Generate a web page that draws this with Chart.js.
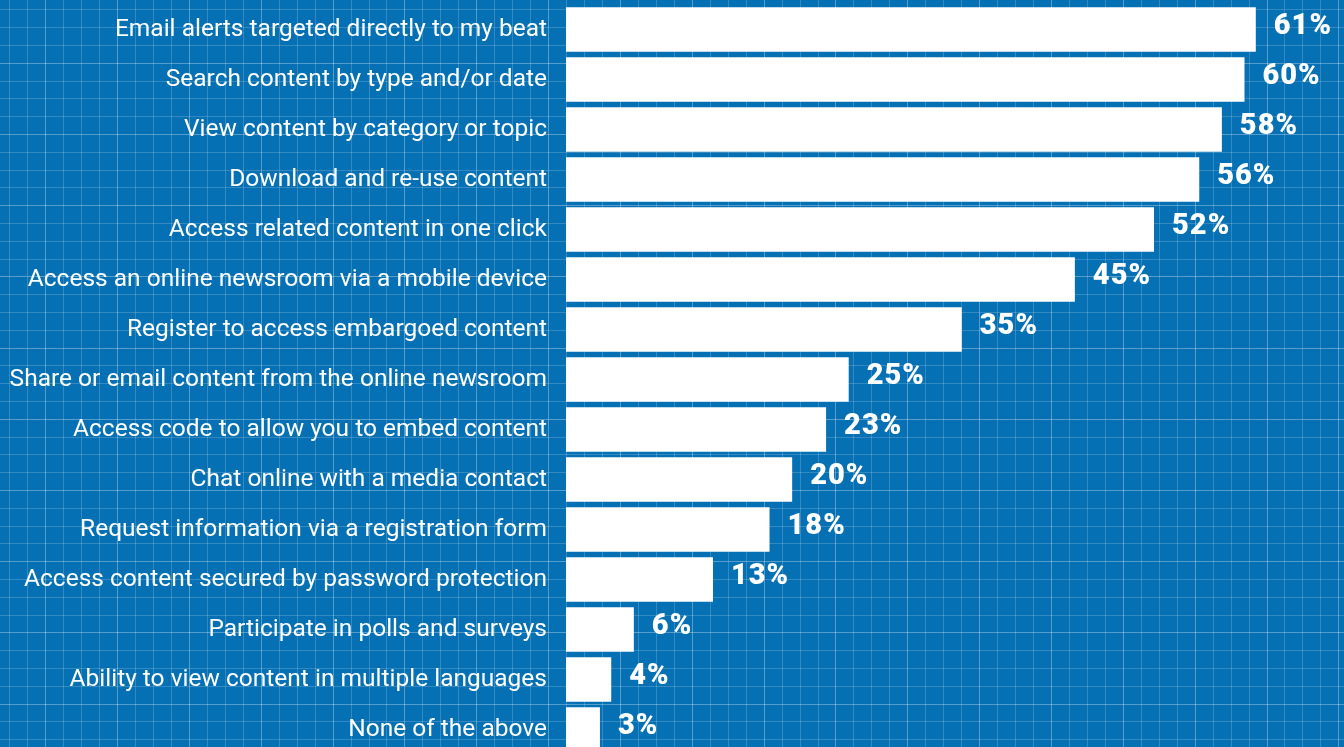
<!DOCTYPE html>
<html>
<head>
<meta charset="utf-8">
<script src="https://cdn.jsdelivr.net/npm/chart.js@4/dist/chart.umd.min.js"></script>
<style>
  html, body { margin: 0; padding: 0; overflow: hidden; background: #0571b4; }
  #wrap { position: relative; width: 1344px; height: 760px; }
</style>
</head>
<body>
<div id="wrap"><canvas id="chart"></canvas></div>
<script>
const categories = [
  "Email alerts targeted directly to my beat",
  "Search content by type and/or date",
  "View content by category or topic",
  "Download and re-use content",
  "Access related content in one click",
  "Access an online newsroom via a mobile device",
  "Register to access embargoed content",
  "Share or email content from the online newsroom",
  "Access code to allow you to embed content",
  "Chat online with a media contact",
  "Request information via a registration form",
  "Access content secured by password protection",
  "Participate in polls and surveys",
  "Ability to view content in multiple languages",
  "None of the above"
];
const values = [61, 60, 58, 56, 52, 45, 35, 25, 23, 20, 18, 13, 6, 4, 3];
const valueLabels = values.map(v => v + "%");

// graph paper background
const gridPaper = {
  id: "gridPaper",
  beforeDraw(chart) {
    const ctx = chart.ctx;
    const w = chart.width, h = chart.height;
    ctx.save();
    ctx.fillStyle = "#0571b4";
    ctx.fillRect(0, 0, w, h);
    ctx.lineWidth = 1;
    const dx = 17.96, dy = 17.8;
    for (let i = -2; i * dx < w; i++) {
      const x = Math.round(9.3 + i * dx) + 0.5;
      ctx.strokeStyle = ((i - 2) % 4 === 0) ? "rgba(255,255,255,0.32)" : "rgba(255,255,255,0.18)";
      ctx.beginPath(); ctx.moveTo(x, 0); ctx.lineTo(x, h); ctx.stroke();
    }
    for (let j = -2; j * dy < h; j++) {
      const y = Math.round(9.3 + j * dy) + 0.5;
      ctx.strokeStyle = ((j - 3) % 4 === 0) ? "rgba(255,255,255,0.32)" : "rgba(255,255,255,0.18)";
      ctx.beginPath(); ctx.moveTo(0, y); ctx.lineTo(w, y); ctx.stroke();
    }
    ctx.restore();
  }
};

// percentage labels at bar ends
const valueTags = {
  id: "valueTags",
  afterDatasetsDraw(chart) {
    const ctx = chart.ctx;
    const meta = chart.getDatasetMeta(0);
    ctx.save();
    ctx.fillStyle = "#ffffff";
    ctx.font = "900 29px Roboto";
    ctx.letterSpacing = "1px";
    ctx.textAlign = "left";
    ctx.textBaseline = "middle";
    meta.data.forEach((bar, i) => {
      ctx.fillText(valueLabels[i], bar.x + 18, bar.y - 2.5);
    });
    ctx.restore();
  }
};

new Chart(document.getElementById("chart"), {
  type: "bar",
  data: {
    labels: categories,
    datasets: [{
      data: values,
      backgroundColor: "#ffffff",
      borderWidth: 0,
      barPercentage: 0.89,
      categoryPercentage: 1
    }]
  },
  options: {
    indexAxis: "y",
    responsive: true,
    maintainAspectRatio: false,
    animation: false,
    layout: { padding: { top: 4.5, bottom: 5.5, left: 0, right: 0 } },
    plugins: { legend: { display: false }, tooltip: { enabled: false } },
    scales: {
      x: { display: false, min: 0, max: 68.8 },
      y: {
        grid: { display: false, drawTicks: false },
        border: { display: false },
        ticks: {
          color: "#ffffff",
          font: { family: "Roboto", size: 24.5 },
          padding: 19,
          autoSkip: false
        },
        afterFit(scale) {
          scale.width = 566;
          scale.paddingTop = 0;
          scale.paddingBottom = 0;
        }
      }
    }
  },
  plugins: [gridPaper, valueTags]
});
</script>
</body>
</html>
